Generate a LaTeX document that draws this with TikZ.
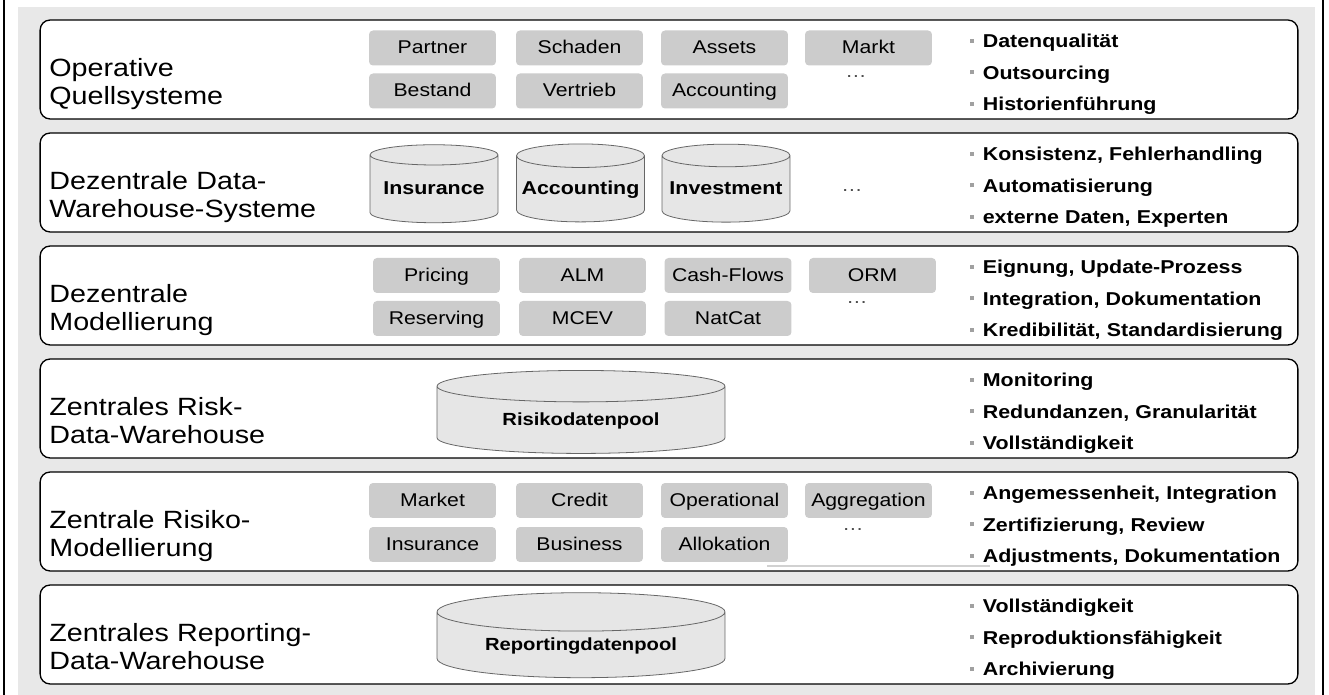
\documentclass[tikz,border=0pt]{standalone}
\usepackage{fontspec}
\setmainfont{Liberation Sans}[FakeStretch=1.15]
\usetikzlibrary{shapes.geometric}
\definecolor{paneback}{RGB}{232,232,232}
\definecolor{itemgray}{RGB}{204,204,204}
\definecolor{poolgray}{RGB}{230,230,230}
\definecolor{bulletgray}{RGB}{160,160,160}
\newcommand{\bul}{{\color{bulletgray}\rule[0.27em]{0.22em}{0.22em}}\hspace{0.45em}}
\tikzset{
  layer/.style={draw=black,line width=0.75pt,fill=white,rounded corners=0.2cm,
                minimum width=25.16cm,minimum height=1.98cm,inner sep=0pt},
  title/.style={anchor=base west,text width=6cm,align=left,inner sep=0pt,
                font=\fontsize{14.2}{15.9}\selectfont},
  item/.style={fill=itemgray,rounded corners=0.08cm,minimum width=2.54cm,
               minimum height=0.7cm,inner sep=0pt,text height=1.6ex,text depth=0.4ex,
               font=\fontsize{10.5}{12}\selectfont},
  pool/.style={cylinder,shape border rotate=90,aspect=0.2,draw=black!60,line width=0.45pt,
               fill=poolgray,inner sep=0pt,text height=1.6ex,text depth=0.4ex,
               font=\bfseries\fontsize{10.6}{12}\selectfont},
  notes/.style={anchor=base west,text width=7cm,align=left,inner sep=0pt,
                font=\bfseries\fontsize{10.6}{17.9}\selectfont}
}

\begin{document}
\begin{tikzpicture}[x=0.02cm,y=-0.02cm,
  more/.style={anchor=base,inner sep=0pt,text=black!70,font=\fontsize{10.5}{12}\selectfont}]
  \useasboundingbox (0,0) rectangle (1329,695);
  \fill[paneback] (18,7) rectangle (1315,695);
  \draw[line width=1.2pt] (4,0) -- (4,695);
  \draw[line width=1.2pt] (1323,0) -- (1323,695);

  % layers
  \node[layer] (ops) at (669,69.5) {};
  \node[layer] (dwh) at (669,182.5) {};
  \node[layer] (mod) at (669,295.5) {};
  \node[layer] (rdw) at (669,408.5) {};
  \node[layer] (rmod) at (669,521.5) {};
  \node[layer] (rep) at (669,634.5) {};
  \draw[black!18,line width=0.6pt] (767,566) -- (990,566);

  \node[title] (opsT) at (49,77) {Operative\\Quellsysteme};
  \node[title] (dwhT) at (49,190) {Dezentrale Data-\\Warehouse-Systeme};
  \node[title] (modT) at (49,303) {Dezentrale\\Modellierung};
  \node[title] (rdwT) at (49,416) {Zentrales Risk-\\Data-Warehouse};
  \node[title] (rmodT) at (49,529) {Zentrale Risiko-\\Modellierung};
  \node[title] (repT) at (49,642) {Zentrales Reporting-\\Data-Warehouse};

  % source systems
  \node[item] (partner) at (432.5,48) {Partner};
  \node[item] (schaden) at (579.5,48) {Schaden};
  \node[item] (assets) at (724.5,48) {Assets};
  \node[item] (markt) at (868.5,48) {Markt};
  \node[item] (bestand) at (432.5,91) {Bestand};
  \node[item] (vertrieb) at (579.5,91) {Vertrieb};
  \node[item] (acc) at (724.5,91) {Accounting};
  \node[more] (opsM) at (856,78) {\dots};

  % decentral warehouses
  \node[pool,minimum width=2.56cm,minimum height=1.56cm] (ins) at (434,189) {Insurance};
  \node[pool,minimum width=2.56cm,minimum height=1.56cm] (accdb) at (580.5,189) {Accounting};
  \node[pool,minimum width=2.56cm,minimum height=1.56cm] (inv) at (726,189) {Investment};
  \node[more] (dwhM) at (852,192) {\dots};

  % decentral models
  \node[item] (pricing) at (436.5,275.5) {Pricing};
  \node[item] (alm) at (582.5,275.5) {ALM};
  \node[item] (cf) at (728,275.5) {Cash-Flows};
  \node[item] (orm) at (872.5,275.5) {ORM};
  \node[item] (reserving) at (436.5,318.5) {Reserving};
  \node[item] (mcev) at (582.5,318.5) {MCEV};
  \node[item] (natcat) at (728,318.5) {NatCat};
  \node[more] (modM) at (857,304) {\dots};

  % central pools
  \node[pool,minimum width=5.76cm,minimum height=1.66cm,
        font=\bfseries\fontsize{10}{12}\selectfont] (risk) at (581,420) {Risikodatenpool};
  \node[pool,minimum width=5.76cm,minimum height=1.7cm,
        font=\bfseries\fontsize{10}{12}\selectfont] (report) at (581,645) {Reportingdatenpool};

  % central risk models
  \node[item] (market) at (432.5,500.5) {Market};
  \node[item] (credit) at (579.5,500.5) {Credit};
  \node[item] (oper) at (724.5,500.5) {Operational};
  \node[item] (aggr) at (868.5,500.5) {Aggregation};
  \node[item] (insm) at (432.5,544.5) {Insurance};
  \node[item] (business) at (579.5,544.5) {Business};
  \node[item] (alloc) at (724.5,544.5) {Allokation};
  \node[more] (rmodM) at (853,531) {\dots};

  % requirements per layer
  \node[notes] (opsN) at (970,48) {\bul Datenqualität\\\bul Outsourcing\\\bul Historienführung};
  \node[notes] (dwhN) at (970,161) {\bul Konsistenz, Fehlerhandling\\\bul Automatisierung\\\bul externe Daten, Experten};
  \node[notes] (modN) at (970,274) {\bul Eignung, Update-Prozess\\\bul Integration, Dokumentation\\\bul Kredibilität, Standardisierung};
  \node[notes] (rdwN) at (970,387) {\bul Monitoring\\\bul Redundanzen, Granularität\\\bul Vollständigkeit};
  \node[notes] (rmodN) at (970,500) {\bul Angemessenheit, Integration\\\bul Zertifizierung, Review\\\bul Adjustments, Dokumentation};
  \node[notes] (repN) at (970,613) {\bul Vollständigkeit\\\bul Reproduktionsfähigkeit\\\bul Archivierung};
\end{tikzpicture}
\end{document}
